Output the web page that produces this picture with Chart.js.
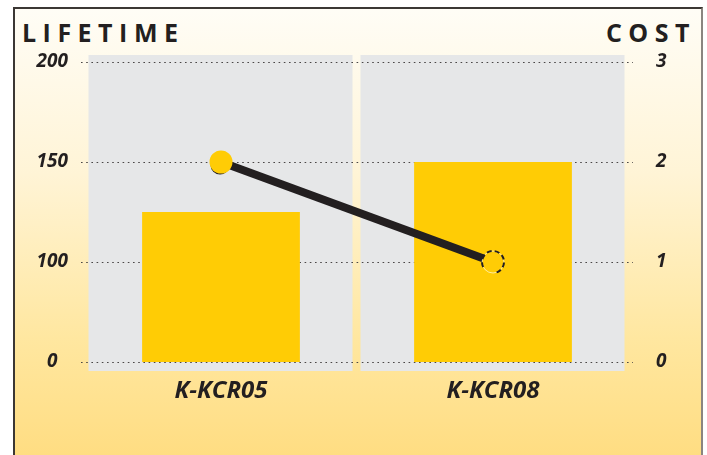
<!DOCTYPE html>
<html>
<head>
<meta charset="utf-8">
<script src="https://cdn.jsdelivr.net/npm/chart.js@4/dist/chart.umd.min.js"></script>
<style>
  body { margin: 0; background: #fff; }
  .wrap { position: relative; width: 707px; height: 455px; overflow: hidden; }
  .frame {
    position: absolute; left: 13px; top: 7px; width: 686px; height: 470px;
    border-left: 2px solid #3b3734; border-top: 2px solid #3b3734; border-right: 2px solid #8a8580;
    background: linear-gradient(to bottom, #fffdf6 0%, #fff4d6 35%, #ffe7a0 70%, #ffdb7c 100%);
  }
  .title {
    position: absolute; top: 15px; font-family: "Open Sans", sans-serif; font-weight: 700;
    font-size: 25px; letter-spacing: 6.5px; color: #231f20; line-height: 34px;
  }
  canvas { position: absolute; left: 0; top: 0; }
</style>
</head>
<body>
<div class="wrap">
  <div class="frame"></div>
  <div class="title" style="left:22px">LIFETIME</div>
  <div class="title" style="right:11px">COST</div>
  <canvas id="chartCanvas" width="707" height="455"></canvas>
</div>
<script>
// Data
const categories = ['K-KCR05', 'K-KCR08'];
const lifetimeValues = [125, 150];
const costValues = [2, 1];
const lifetimeTicks = [0, 100, 150, 200];
const costTicks = [0, 1, 2, 3];

const ink = '#231f20';
const yellow = '#ffcc05';
const band = '#e6e7e8';

// left axis ticks are evenly spaced but not linear, map a lifetime onto tick steps
function lifetimeToStep(v) {
    for (let i = 1; i < lifetimeTicks.length; i++) {
        if (v <= lifetimeTicks[i]) {
            const a = lifetimeTicks[i - 1], b = lifetimeTicks[i];
            return (i - 1) + (v - a) / (b - a);
        }
    }
    return lifetimeTicks.length - 1;
}

// marker images
function makeFilledDot() {
    const c = document.createElement('canvas');
    c.width = 32; c.height = 32;
    const g = c.getContext('2d');
    g.fillStyle = ink;
    g.beginPath(); g.arc(15, 19, 9.5, 0, Math.PI * 2); g.fill();
    g.fillStyle = yellow;
    g.beginPath(); g.arc(16, 16, 11.5, 0, Math.PI * 2); g.fill();
    return c;
}
function makeDashedDot() {
    const c = document.createElement('canvas');
    c.width = 32; c.height = 32;
    const g = c.getContext('2d');
    g.fillStyle = yellow;
    g.beginPath(); g.arc(16, 16, 11, 0, Math.PI * 2); g.fill();
    g.strokeStyle = 'rgba(255,255,255,0.6)';
    g.lineWidth = 1;
    g.beginPath(); g.arc(16, 16, 11, 0, Math.PI * 2); g.stroke();
    g.strokeStyle = ink;
    g.lineWidth = 2;
    g.setLineDash([5, 3]);
    g.beginPath(); g.arc(16, 16, 11, -Math.PI * 1.15, Math.PI * 0.45); g.stroke();
    return c;
}

// gray column bands and dotted grid lines
const backdrop = {
    id: 'backdrop',
    beforeDatasetsDraw(chart) {
        const ctx = chart.ctx, area = chart.chartArea;
        const x = chart.scales.x, y = chart.scales.y;
        const half = (x.right - x.left) / categories.length / 2;
        ctx.save();
        ctx.fillStyle = band;
        categories.forEach((c, i) => {
            const cx = x.getPixelForValue(i);
            ctx.fillRect(cx - half + 3.5, area.top - 7, 2 * half - 8, area.bottom - area.top + 16);
        });
        ctx.strokeStyle = '#4a4646';
        ctx.lineWidth = 1.2;
        ctx.setLineDash([1.6, 3.6]);
        y.ticks.forEach(t => {
            const py = Math.round(y.getPixelForValue(t.value)) + 0.5;
            ctx.beginPath();
            ctx.moveTo(area.left - 4, py);
            ctx.lineTo(area.right + 4, py);
            ctx.stroke();
        });
        ctx.restore();
    }
};

const tickFont = { family: 'Open Sans', size: 19, weight: 'bold', style: 'italic' };

new Chart(document.getElementById('chartCanvas'), {
    data: {
        labels: categories,
        datasets: [{
            type: 'line',
            data: costValues,
            yAxisID: 'y1',
            borderColor: ink,
            borderWidth: 8,
            tension: 0,
            pointStyle: [makeFilledDot(), makeDashedDot()],
            order: 1
        }, {
            type: 'bar',
            data: lifetimeValues.map(lifetimeToStep),
            yAxisID: 'y',
            backgroundColor: yellow,
            categoryPercentage: 1,
            barPercentage: 0.58,
            order: 2
        }]
    },
    options: {
        responsive: false,
        animation: false,
        layout: { padding: { top: 62, left: 0, right: 0, bottom: 0 } },
        plugins: { legend: { display: false }, tooltip: { enabled: false } },
        scales: {
            x: {
                grid: { display: false },
                border: { display: false },
                ticks: { color: ink, font: { family: 'Open Sans', size: 24, weight: 'bold', style: 'italic' }, padding: 7 },
                afterFit: s => { s.height = 93; }
            },
            y: {
                position: 'left',
                min: 0, max: lifetimeTicks.length - 1,
                grid: { display: false, drawTicks: false },
                border: { display: false },
                ticks: {
                    stepSize: 1, color: ink, font: tickFont, padding: 17, crossAlign: 'center',
                    callback: (v, i) => lifetimeTicks[i]
                },
                afterFit: s => { s.width = 85; }
            },
            y1: {
                position: 'right',
                min: 0, max: costTicks.length - 1,
                grid: { display: false, drawTicks: false },
                border: { display: false },
                ticks: {
                    stepSize: 1, color: ink, font: tickFont, padding: 27, crossAlign: 'center',
                    callback: (v, i) => costTicks[i]
                },
                afterFit: s => { s.width = 78; }
            }
        }
    },
    plugins: [backdrop]
});
</script>
</body>
</html>
